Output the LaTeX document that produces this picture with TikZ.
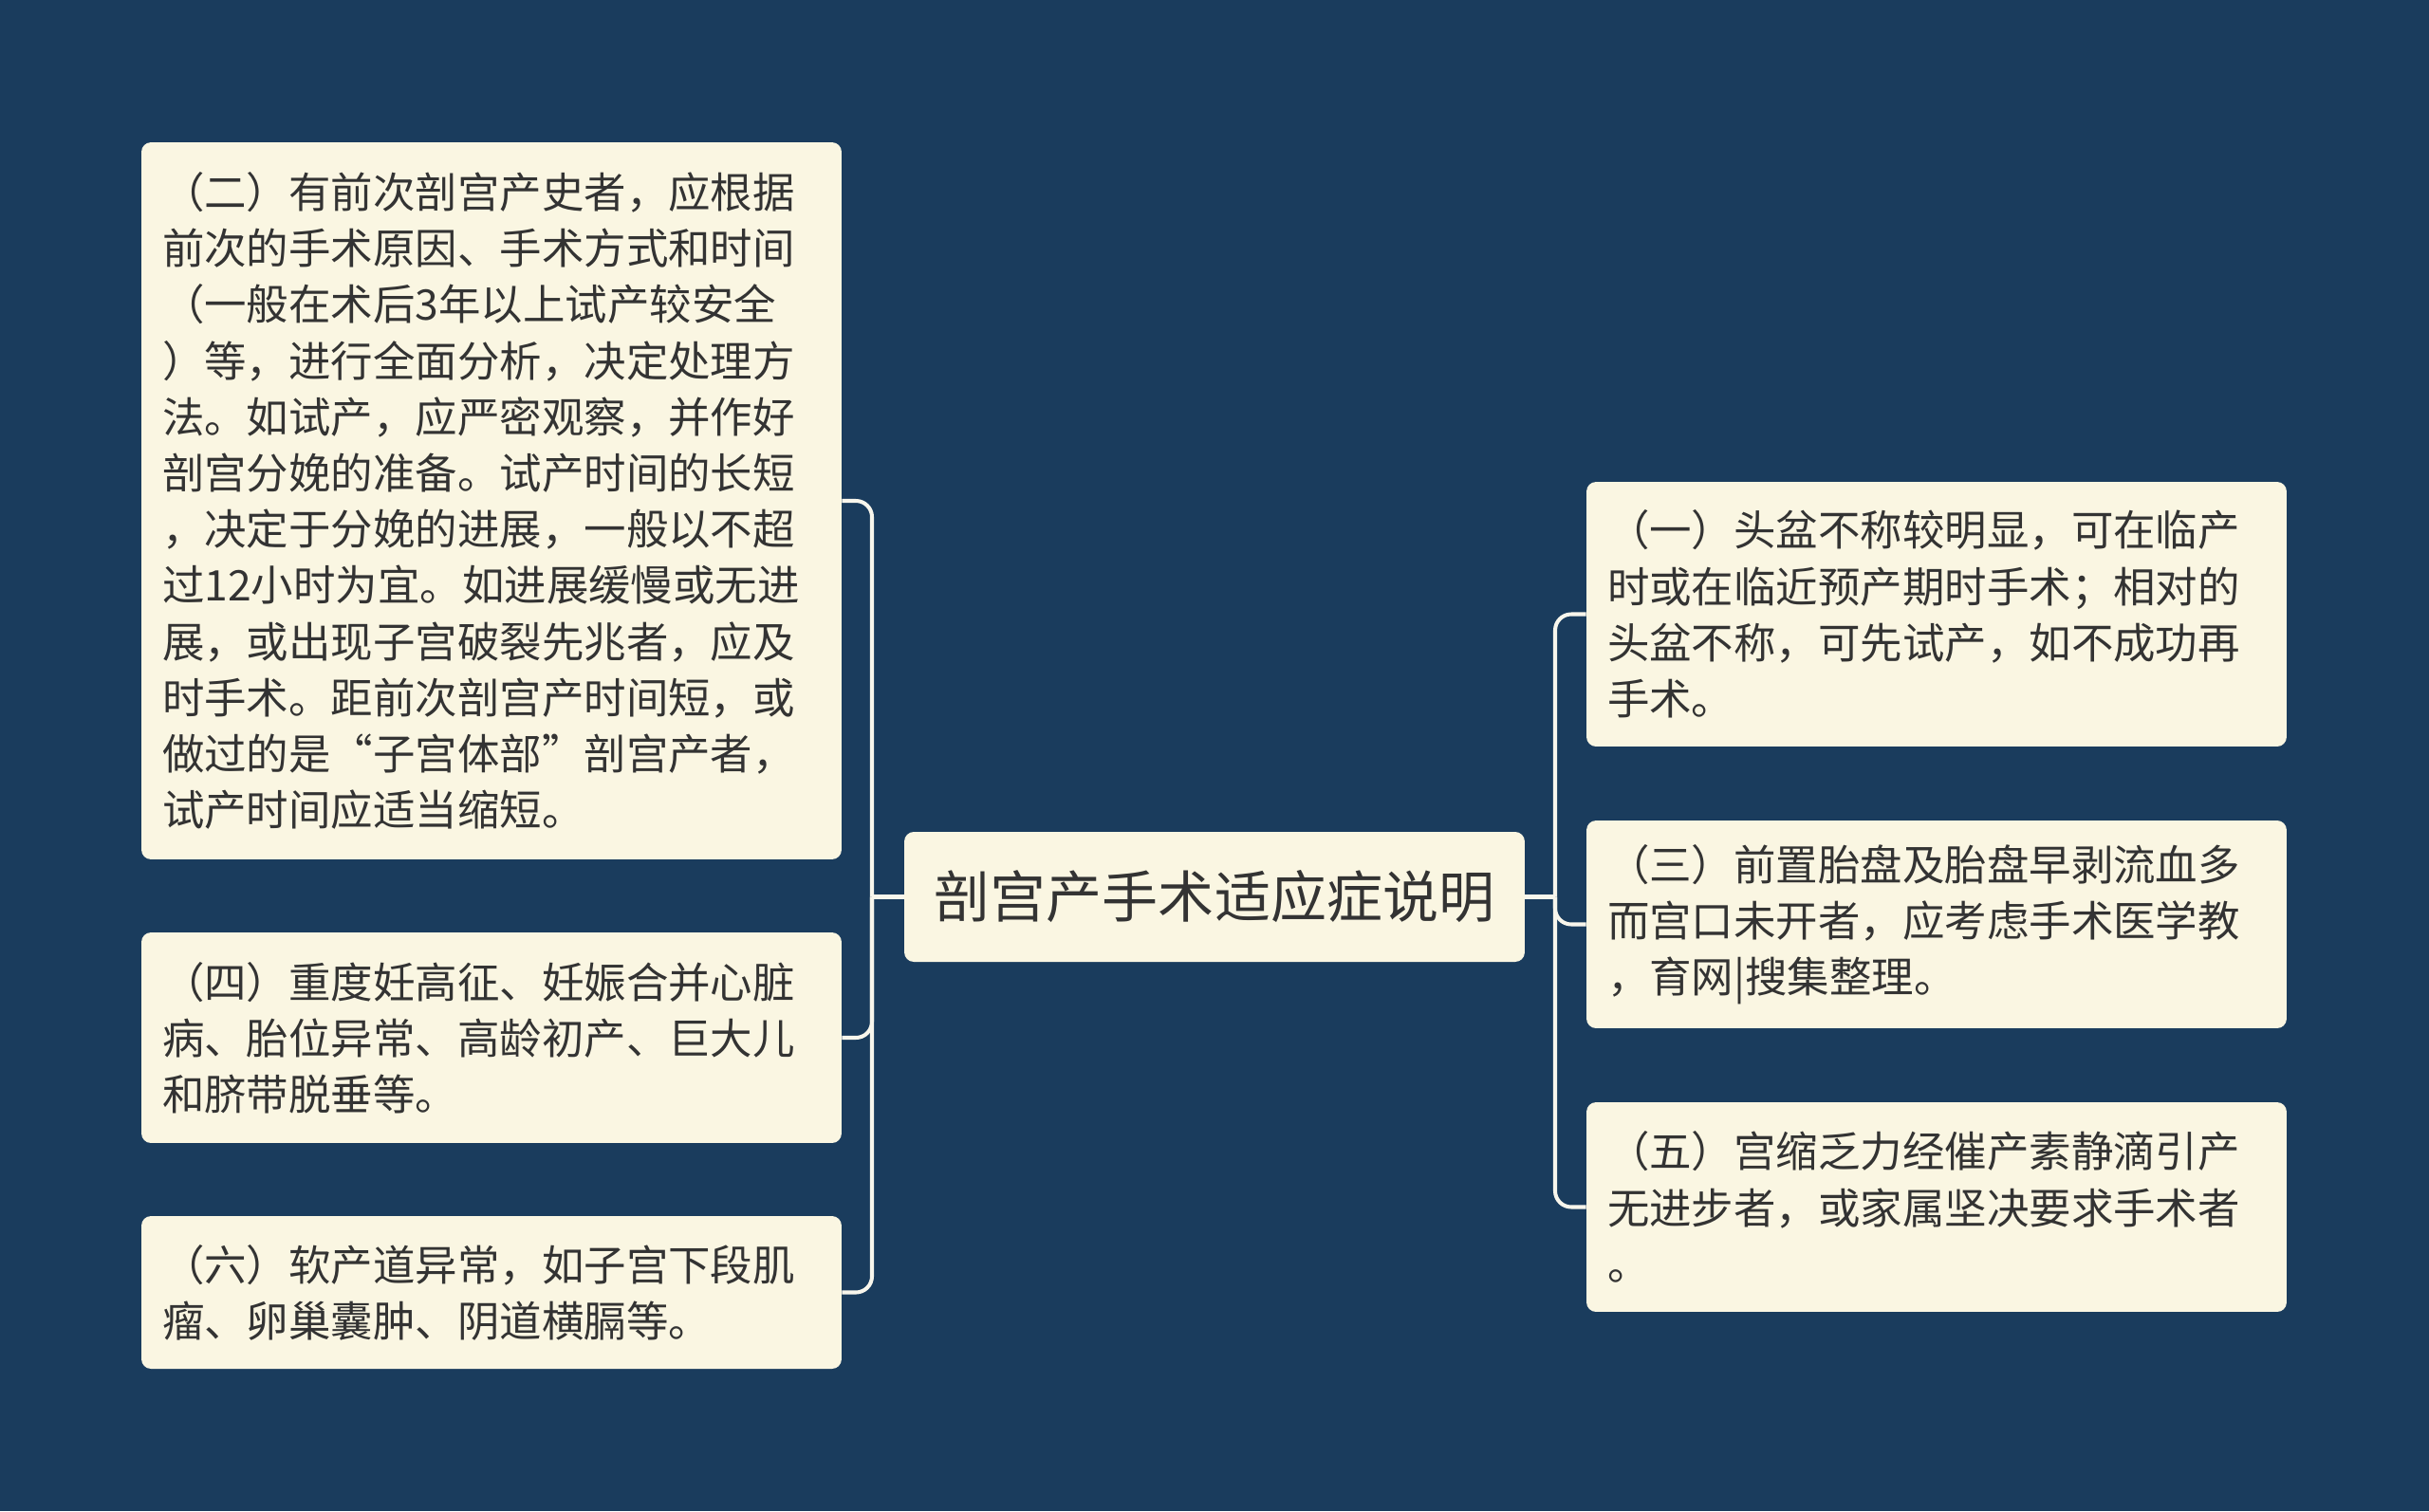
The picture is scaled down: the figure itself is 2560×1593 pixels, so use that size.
\documentclass[tikz,border=0pt]{standalone}
\usepackage{fontspec}
\setmainfont{Noto Sans CJK SC}
\definecolor{bgblue}{HTML}{1A3C5D}
\definecolor{cream}{HTML}{FAF6E2}
\definecolor{wire}{HTML}{F8F6EC}
\definecolor{ink}{HTML}{333333}
\begin{document}
\begin{tikzpicture}[x=0.02cm, y=-0.02cm,
    leaf/.style={fill=cream, rounded corners=0.2cm, text=ink, align=left,
      minimum width=14.76cm, text width=13.88cm, inner xsep=0.44cm,
      font=\fontsize{25.3}{33.7}\selectfont},
    root/.style={fill=cream, rounded corners=0.2cm, text=ink,
      minimum width=13.08cm, minimum height=2.74cm, font=\fontsize{33.6}{40}\selectfont},
    link/.style={draw=wire, line width=2.3pt, rounded corners=0.34cm}]
    \fill[bgblue](0,0)rectangle(2560,1593);
    \node[root](main) at (1280,945.5){剖宫产手术适应症说明};
    % left side
    \node[leaf, minimum height=15.12cm](c2) at (518,528){（二）有前次剖宫产史者，应根据\\前次的手术原因、手术方式和时间\\（一般在术后3年以上试产较安全\\）等，进行全面分析，决定处理方\\法。如试产，应严密观察，并作好\\剖宫分娩的准备。试产时间的长短\\，决定于分娩的进展，一般以不超\\过12小时为宜。如进展缓慢或无进\\展，或出现子宫破裂先兆者，应及\\时手术。距前次剖宫产时间短，或\\做过的是“子宫体部”剖宫产者，\\试产时间应适当缩短。};
    \node[leaf, minimum height=4.44cm](c4) at (518,1094){（四）重度妊高征、妊娠合并心脏\\病、胎位异常、高龄初产、巨大儿\\和脐带脱垂等。};
    \node[leaf, minimum height=3.22cm](c6) at (518,1362.5){（六）软产道异常，如子宫下段肌\\瘤、卵巢囊肿、阴道横膈等。};
    % right side
    \node[leaf, minimum height=5.58cm](c1) at (2041,647.5){（一）头盆不称较明显，可在临产\\时或在临近预产期时手术；相对的\\头盆不称，可先试产，如不成功再\\手术。};
    \node[leaf, minimum height=4.38cm](c3) at (2041,974.5){（三）前置胎盘及胎盘早剥流血多\\而宫口未开者，应考虑手术医学教\\，育网|搜集整理。};
    \node[leaf, minimum height=4.42cm](c5) at (2041,1272.5){（五）宫缩乏力经催产素静滴引产\\无进步者，或家属坚决要求手术者\\。};
    \coordinate(lhub) at (919,945.5);
    \coordinate(rhub) at (1639,945.5);
    \draw[link](main.west)--(lhub);
    \draw[link](main.east)--(rhub);
    \foreach \c in {c2,c4,c6} \draw[link](lhub)|-(\c.east);
    \foreach \c in {c1,c3,c5} \draw[link](rhub)|-(\c.west);
\end{tikzpicture}
\end{document}
